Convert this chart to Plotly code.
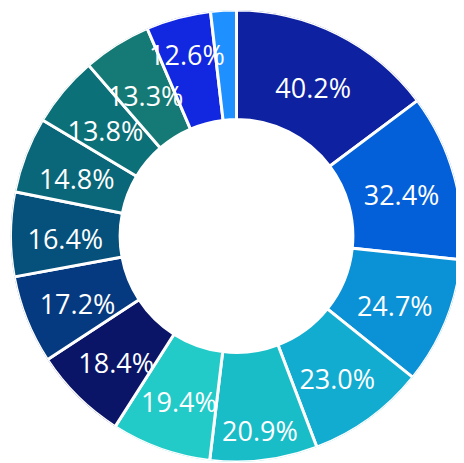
import plotly.graph_objects as go

values = [40.2, 32.4, 24.7, 23.0, 20.9, 19.4, 18.4, 17.2, 16.4, 14.8, 13.8, 13.3, 12.6, 5.0]
texts = ["40.2%", "32.4%", "24.7%", "23.0%", "20.9%", "19.4%", "18.4%", "17.2%",
         "16.4%", "14.8%", "13.8%", "13.3%", "12.6%", ""]
colors = ["#0d21a1", "#0460d9", "#0b91d5", "#12acd0", "#18bdc8", "#22cbc8", "#0a1568",
          "#063a80", "#05517c", "#0a6779", "#0c7078", "#157a75", "#1228e0", "#1e90ff"]

HOLE = 0.515
W, H = 464, 463
PUSHED_LABELS = {4, 12}      # labels the original layout moves outward to avoid crowding
TEXT_DROP = 8                # px: vertical centring of label text

total = sum(values)
widths = [v / total * 360 for v in values]
mids = []
acc = 0.0
for w in widths:
    mids.append(acc + w / 2)
    acc += w

mid_r = (HOLE + 1) / 2
label_r = [0.85 if i in PUSHED_LABELS else mid_r for i in range(len(values))]

fig = go.Figure()
fig.add_trace(go.Barpolar(
    theta=mids,
    width=widths,
    r=[1 - HOLE] * len(values),
    base=HOLE,
    marker=dict(color=colors, line=dict(color="white", width=3)),
    hoverinfo="skip",
    showlegend=False,
    subplot="polar",
))
fig.add_trace(go.Scatterpolar(
    theta=mids,
    r=label_r,
    text=texts,
    mode="text",
    textposition="middle center",
    textfont=dict(color="white", size=27, family="Open Sans"),
    hoverinfo="skip",
    showlegend=False,
    subplot="polar2",
))

axis_off = dict(
    radialaxis=dict(range=[0, 1], visible=False, showgrid=False, showline=False,
                    showticklabels=False, ticks=""),
    angularaxis=dict(rotation=90, direction="clockwise", visible=False,
                     showgrid=False, showline=False, showticklabels=False, ticks=""),
)
fig.update_layout(
    width=W, height=H,
    margin=dict(l=0, r=0, t=0, b=0),
    paper_bgcolor="white",
    polar=dict(domain=dict(x=[2.5 / W, 454.5 / W], y=[9 / H, 461 / H]),
               bgcolor="white", bargap=0, **axis_off),
    polar2=dict(domain=dict(x=[2.5 / W, 454.5 / W],
                            y=[(9 - TEXT_DROP) / H, (461 - TEXT_DROP) / H]),
                bgcolor="rgba(0,0,0,0)", **axis_off),
)
fig.write_html("out.html")
